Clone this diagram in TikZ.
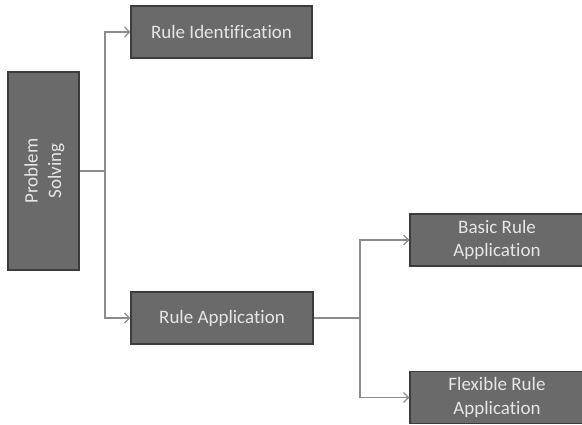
\documentclass[tikz,border=0pt]{standalone}
\usepackage{fontspec}
\setmainfont{Carlito}[Ligatures={NoCommon}]
\usetikzlibrary{arrows.meta}
\definecolor{boxfill}{HTML}{6A6A6A}
\definecolor{boxline}{HTML}{3C3C3C}
\definecolor{boxtext}{HTML}{E6E6E6}
\definecolor{linkgrey}{HTML}{8C8C8C}
\tikzset{
  boxtxt/.style={text=boxtext, font=\fontsize{19}{23.5}\selectfont, align=center, inner sep=0pt},
  box/.style={boxtxt, draw=boxline, fill=boxfill, line width=1.2pt},
  link/.style={draw=linkgrey, line width=1.4pt},
  tip/.style={link, -{Straight Barb[length=5pt,width=10pt,line width=1.2pt]}}
}
\begin{document}
\begin{tikzpicture}[x=1pt,y=-1pt]
  \useasboundingbox (0,0) rectangle (582,425);
  \node[box, minimum width=71pt, minimum height=198pt] (ps) at (43.5,171) {};
  \node[boxtxt, rotate=90, anchor=center] (pslabel) at (44.5,171) {Problem\\Solving};
  \node[box, minimum width=181pt, minimum height=52pt] (ri) at (221.5,32) {Rule Identification};
  \node[box, minimum width=182pt, minimum height=52pt] (ra) at (222,318) {Rule Application};
  \node[box, minimum width=174pt, minimum height=52pt] (ba) at (497,240) {Basic Rule\\Application};
  \node[box, minimum width=174pt, minimum height=52pt] (fa) at (497,397.5) {Flexible Rule\\Application};
  \coordinate (j1) at (105,171);
  \coordinate (j2) at (360,318);
  \draw[link] (ps.east) -- (j1);
  \draw[tip] (j1) |- (ri.west);
  \draw[tip] (j1) |- (ra.west);
  \draw[link] (ra.east) -- (j2);
  \draw[tip] (j2) |- (ba.west);
  \draw[tip] (j2) |- (fa.west);
\end{tikzpicture}
\end{document}
